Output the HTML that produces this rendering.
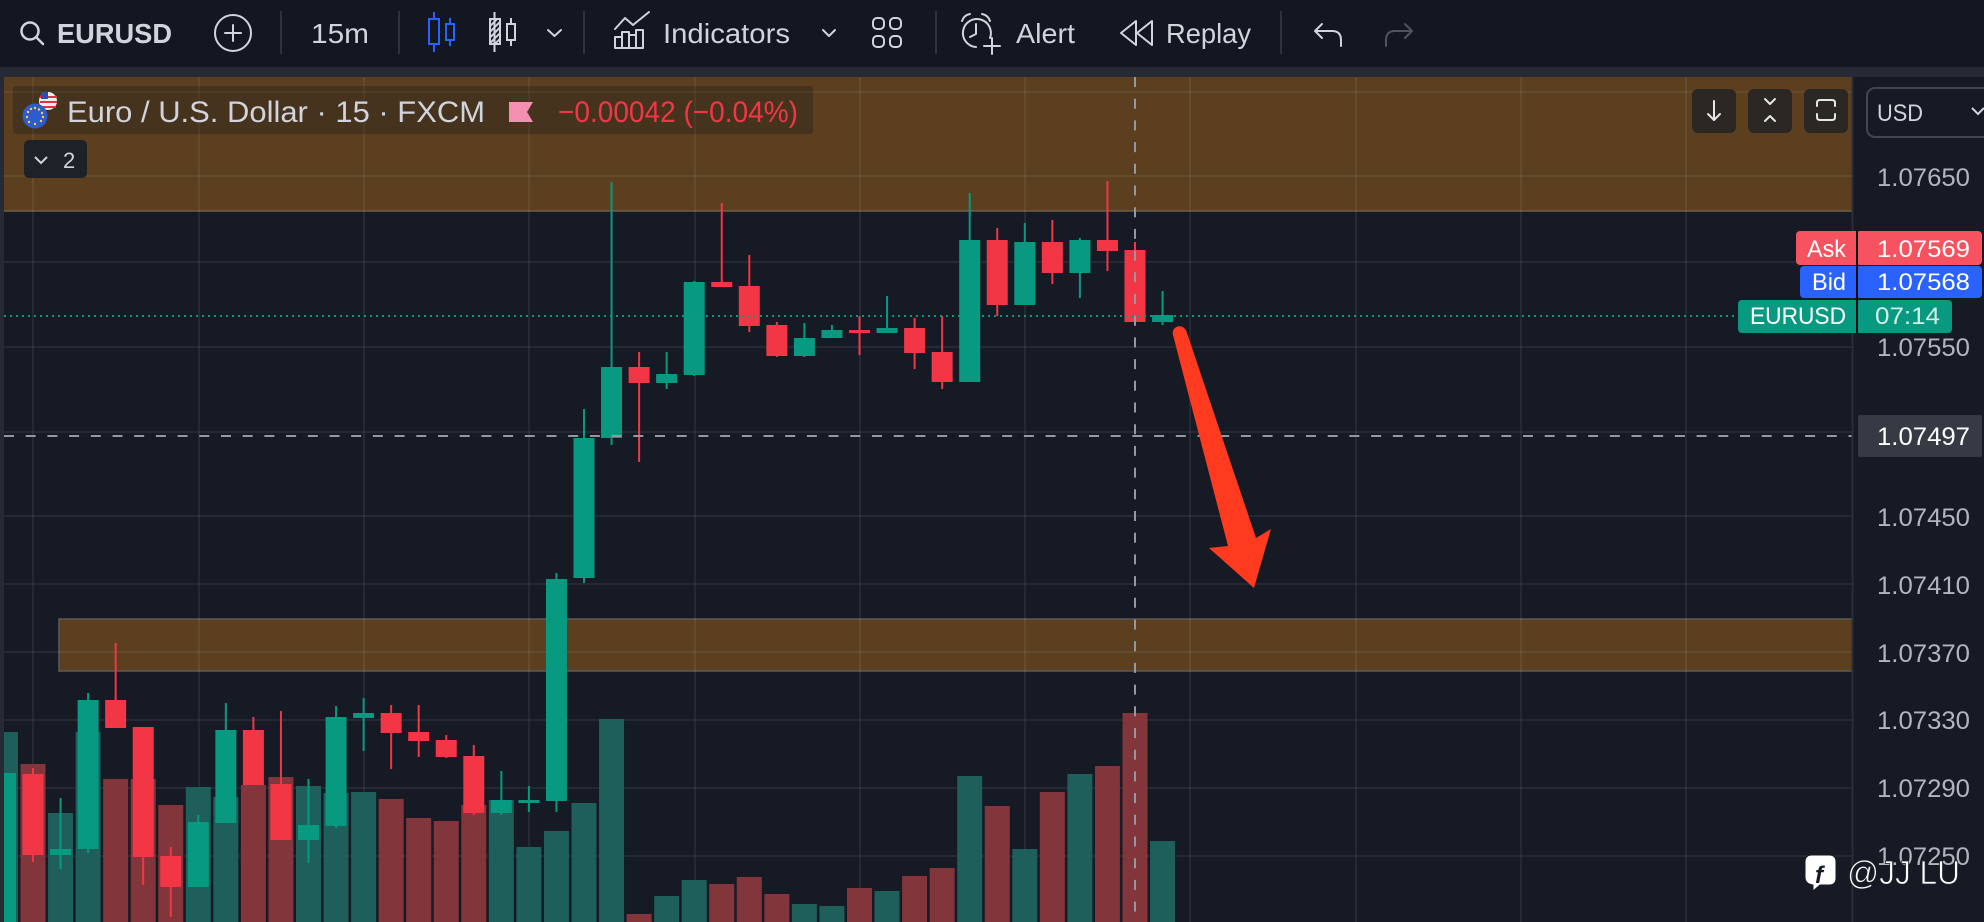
<!DOCTYPE html>
<html>
<head>
<meta charset="utf-8">
<style>
html,body{margin:0;padding:0;background:#161a25;}
#root{width:1984px;height:922px;overflow:hidden;position:relative;}
svg{display:block;font-family:"Liberation Sans",sans-serif;}
</style>
</head>
<body>
<div id="root">
<svg width="1984" height="922" viewBox="0 0 1984 922" xmlns="http://www.w3.org/2000/svg">
<defs>
<clipPath id="pane"><rect x="4" y="77" width="1848" height="845"/></clipPath>
<pattern id="hatch" width="4" height="4" patternUnits="userSpaceOnUse" patternTransform="rotate(45)"><rect width="2" height="4" fill="#d1d4dc"/></pattern>
</defs>
<!-- backgrounds -->
<rect width="1984" height="922" fill="#262a35"/>
<rect x="0" y="0" width="1984" height="67" fill="#131722"/>
<rect x="4" y="77" width="1980" height="845" fill="#161a25"/>

<!-- toolbar -->
<g fill="none" stroke="#d1d4dc" stroke-width="2.5" stroke-linecap="round" stroke-linejoin="round">
  <circle cx="30" cy="31" r="8.5"/>
  <line x1="36.5" y1="37.5" x2="43" y2="44"/>
  <circle cx="233" cy="33" r="18" stroke-width="2"/>
  <line x1="225" y1="33" x2="241" y2="33" stroke-width="2"/>
  <line x1="233" y1="25" x2="233" y2="41" stroke-width="2"/>
  <!-- chevrons -->
  <polyline points="548,30 554.5,36 561,30" stroke-width="2"/>
  <polyline points="823,30 829,36 835,30" stroke-width="2"/>
  <!-- indicators icon -->
  <polyline points="615,29 625,18 633,25 649,12" stroke-width="2"/>
  <rect x="615" y="37" width="7" height="11" stroke-width="2"/>
  <rect x="622" y="32" width="7" height="16" stroke-width="2"/>
  <rect x="629" y="35" width="7" height="13" stroke-width="2"/>
  <rect x="636" y="30" width="7" height="18" stroke-width="2"/>
  <!-- 4 squares -->
  <rect x="873" y="18" width="11" height="11" rx="4" stroke-width="2"/>
  <rect x="890" y="18" width="11" height="11" rx="4" stroke-width="2"/>
  <rect x="873" y="36" width="11" height="11" rx="4" stroke-width="2"/>
  <rect x="890" y="36" width="11" height="11" rx="4" stroke-width="2"/>
  <!-- alert -->
  <path d="M990 38 A14 14 0 1 0 976 47" stroke-width="2"/>
  <polyline points="976,24 976,34 970,37" stroke-width="2"/>
  <path d="M962 21 Q964 15 970 14" stroke-width="2"/>
  <path d="M990 21 Q988 15 982 14" stroke-width="2"/>
  <line x1="992" y1="38" x2="992" y2="54" stroke-width="2"/>
  <line x1="984" y1="46" x2="1000" y2="46" stroke-width="2"/>
  <!-- replay -->
  <polygon points="1136,21 1121,33 1136,45" stroke-width="2"/>
  <polygon points="1152,21 1137,33 1152,45" stroke-width="2"/>
  <!-- undo -->
  <path d="M1322 24 L1315 31 L1322 38 M1315 31 L1332 31 Q1341 31 1341 40 L1341 46" stroke-width="2"/>
  <path d="M1405 24 L1412 31 L1405 38 M1412 31 L1395 31 Q1386 31 1386 40 L1386 46" stroke="#50535e" stroke-width="2"/>
</g>
<!-- separators -->
<g stroke="#2e323d" stroke-width="2">
  <line x1="281" y1="11" x2="281" y2="54"/>
  <line x1="399" y1="11" x2="399" y2="54"/>
  <line x1="584" y1="11" x2="584" y2="54"/>
  <line x1="936" y1="11" x2="936" y2="54"/>
  <line x1="1281" y1="11" x2="1281" y2="54"/>
</g>
<!-- candle icons -->
<g fill="none" stroke="#2962ff" stroke-width="2">
  <line x1="434" y1="12" x2="434" y2="52"/>
  <rect x="429" y="19" width="10" height="25" fill="#131722"/>
  <line x1="450" y1="18" x2="450" y2="46"/>
  <rect x="446" y="24" width="8" height="16" fill="#131722"/>
</g>
<g fill="none" stroke="#d1d4dc" stroke-width="2">
  <line x1="494.5" y1="12" x2="494.5" y2="52"/>
  <rect x="490" y="19" width="10" height="25" fill="url(#hatch)"/>
  <line x1="511" y1="18" x2="511" y2="46"/>
  <rect x="507" y="24" width="8" height="16" fill="#131722"/>
</g>
<g fill="#d1d4dc" font-size="28">
  <text x="57" y="43" font-weight="bold" textLength="115" lengthAdjust="spacingAndGlyphs">EURUSD</text>
  <text x="311" y="43" textLength="58" lengthAdjust="spacingAndGlyphs">15m</text>
  <text x="663" y="43" textLength="127" lengthAdjust="spacingAndGlyphs">Indicators</text>
  <text x="1016" y="43" textLength="59" lengthAdjust="spacingAndGlyphs">Alert</text>
  <text x="1166" y="43" textLength="85" lengthAdjust="spacingAndGlyphs">Replay</text>
</g>

<!-- chart pane -->
<g clip-path="url(#pane)">
  <!-- bands -->
  <rect x="4" y="77" width="1853" height="134" fill="#5b3f1f"/>
  <line x1="4" y1="211" x2="1857" y2="211" stroke="#6f5e48" stroke-width="1.5"/>
  <rect x="59" y="619" width="1798" height="52" fill="#5b3f1f" stroke="#5c5a58" stroke-width="1.5"/>
  <!-- grid -->
  <g stroke="rgba(255,255,255,0.065)" stroke-width="2">
    <line x1="4" y1="92" x2="1852" y2="92"/>
    <line x1="4" y1="176" x2="1852" y2="176"/>
    <line x1="4" y1="262" x2="1852" y2="262"/>
    <line x1="4" y1="347" x2="1852" y2="347"/>
    <line x1="4" y1="432" x2="1852" y2="432"/>
    <line x1="4" y1="516" x2="1852" y2="516"/>
    <line x1="4" y1="584" x2="1852" y2="584"/>
    <line x1="4" y1="652" x2="1852" y2="652"/>
    <line x1="4" y1="720" x2="1852" y2="720"/>
    <line x1="4" y1="788" x2="1852" y2="788"/>
    <line x1="4" y1="856" x2="1852" y2="856"/>
    <line x1="33" y1="77" x2="33" y2="922"/>
    <line x1="199" y1="77" x2="199" y2="922"/>
    <line x1="364" y1="77" x2="364" y2="922"/>
    <line x1="529" y1="77" x2="529" y2="922"/>
    <line x1="695" y1="77" x2="695" y2="922"/>
    <line x1="860" y1="77" x2="860" y2="922"/>
    <line x1="1025" y1="77" x2="1025" y2="922"/>
    <line x1="1190" y1="77" x2="1190" y2="922"/>
    <line x1="1356" y1="77" x2="1356" y2="922"/>
    <line x1="1521" y1="77" x2="1521" y2="922"/>
    <line x1="1686" y1="77" x2="1686" y2="922"/>
  </g>
  <!-- volume -->
  <g>
    <rect x="-7.05" y="732" width="25" height="190" fill="#1e5e5b"/>
    <rect x="20.5" y="764" width="25" height="158" fill="#82353a"/>
    <rect x="48.05" y="813" width="25" height="109" fill="#1e5e5b"/>
    <rect x="75.6" y="732" width="25" height="190" fill="#1e5e5b"/>
    <rect x="103.15" y="779" width="25" height="143" fill="#82353a"/>
    <rect x="130.7" y="779" width="25" height="143" fill="#82353a"/>
    <rect x="158.25" y="805" width="25" height="117" fill="#82353a"/>
    <rect x="185.8" y="787" width="25" height="135" fill="#1e5e5b"/>
    <rect x="213.35" y="797" width="25" height="125" fill="#1e5e5b"/>
    <rect x="240.9" y="785" width="25" height="137" fill="#82353a"/>
    <rect x="268.45" y="777" width="25" height="145" fill="#82353a"/>
    <rect x="296" y="786" width="25" height="136" fill="#1e5e5b"/>
    <rect x="323.55" y="793" width="25" height="129" fill="#1e5e5b"/>
    <rect x="351.1" y="792" width="25" height="130" fill="#1e5e5b"/>
    <rect x="378.65" y="799" width="25" height="123" fill="#82353a"/>
    <rect x="406.2" y="818" width="25" height="104" fill="#82353a"/>
    <rect x="433.75" y="821" width="25" height="101" fill="#82353a"/>
    <rect x="461.3" y="805" width="25" height="117" fill="#82353a"/>
    <rect x="488.85" y="800" width="25" height="122" fill="#1e5e5b"/>
    <rect x="516.4" y="847" width="25" height="75" fill="#1e5e5b"/>
    <rect x="543.95" y="831" width="25" height="91" fill="#1e5e5b"/>
    <rect x="571.5" y="803" width="25" height="119" fill="#1e5e5b"/>
    <rect x="599.05" y="719" width="25" height="203" fill="#1e5e5b"/>
    <rect x="626.6" y="914" width="25" height="8" fill="#82353a"/>
    <rect x="654.15" y="896" width="25" height="26" fill="#1e5e5b"/>
    <rect x="681.7" y="880" width="25" height="42" fill="#1e5e5b"/>
    <rect x="709.25" y="884" width="25" height="38" fill="#82353a"/>
    <rect x="736.8" y="877" width="25" height="45" fill="#82353a"/>
    <rect x="764.35" y="894" width="25" height="28" fill="#82353a"/>
    <rect x="791.9" y="904" width="25" height="18" fill="#1e5e5b"/>
    <rect x="819.45" y="906" width="25" height="16" fill="#1e5e5b"/>
    <rect x="847" y="888" width="25" height="34" fill="#82353a"/>
    <rect x="874.55" y="891" width="25" height="31" fill="#1e5e5b"/>
    <rect x="902.1" y="876" width="25" height="46" fill="#82353a"/>
    <rect x="929.65" y="868" width="25" height="54" fill="#82353a"/>
    <rect x="957.2" y="776" width="25" height="146" fill="#1e5e5b"/>
    <rect x="984.75" y="806" width="25" height="116" fill="#82353a"/>
    <rect x="1012.3" y="849" width="25" height="73" fill="#1e5e5b"/>
    <rect x="1039.85" y="792" width="25" height="130" fill="#82353a"/>
    <rect x="1067.4" y="774" width="25" height="148" fill="#1e5e5b"/>
    <rect x="1094.95" y="766" width="25" height="156" fill="#82353a"/>
    <rect x="1122.5" y="713" width="25" height="209" fill="#82353a"/>
    <rect x="1150.05" y="841" width="25" height="81" fill="#1e5e5b"/>
  </g>
  <!-- candles green -->
  <g fill="#089981">
    <rect x="-5.05" y="773" width="21" height="160"/>
    <rect x="59.55" y="798" width="2" height="71"/><rect x="50.05" y="849" width="21" height="6"/>
    <rect x="87.1" y="693" width="2" height="160"/><rect x="77.6" y="700" width="21" height="149"/>
    <rect x="197.3" y="815" width="2" height="72"/><rect x="187.8" y="822" width="21" height="65"/>
    <rect x="224.85" y="703" width="2" height="120"/><rect x="215.35" y="730" width="21" height="93"/>
    <rect x="307.5" y="779" width="2" height="84"/><rect x="298" y="825" width="21" height="15"/>
    <rect x="335.05" y="706" width="2" height="122"/><rect x="325.55" y="717" width="21" height="109"/>
    <rect x="362.6" y="698" width="2" height="53"/><rect x="353.1" y="713" width="21" height="5"/>
    <rect x="500.35" y="771" width="2" height="44"/><rect x="490.85" y="800" width="21" height="13"/>
    <rect x="527.9" y="786" width="2" height="26"/><rect x="518.4" y="800" width="21" height="3"/>
    <rect x="555.45" y="573" width="2" height="239"/><rect x="545.95" y="579" width="21" height="222"/>
    <rect x="583" y="409" width="2" height="174"/><rect x="573.5" y="438" width="21" height="140"/>
    <rect x="610.55" y="182" width="2" height="263"/><rect x="601.05" y="367" width="21" height="71"/>
    <rect x="665.65" y="352" width="2" height="37"/><rect x="656.15" y="374" width="21" height="9"/>
    <rect x="693.2" y="281" width="2" height="95"/><rect x="683.7" y="282" width="21" height="93"/>
    <rect x="803.4" y="323" width="2" height="34"/><rect x="793.9" y="338" width="21" height="18"/>
    <rect x="830.95" y="325" width="2" height="13"/><rect x="821.45" y="330" width="21" height="8"/>
    <rect x="886.05" y="296" width="2" height="37"/><rect x="876.55" y="328" width="21" height="5"/>
    <rect x="968.7" y="193" width="2" height="189"/><rect x="959.2" y="240" width="21" height="142"/>
    <rect x="1023.8" y="223" width="2" height="82"/><rect x="1014.3" y="242" width="21" height="63"/>
    <rect x="1078.9" y="238" width="2" height="60"/><rect x="1069.4" y="240" width="21" height="33"/>
    <rect x="1161.55" y="291" width="2" height="34"/><rect x="1152.05" y="315" width="21" height="7"/>
  </g>
  <!-- candles red -->
  <g fill="#f23645">
    <rect x="32" y="768" width="2" height="94"/><rect x="22.5" y="774" width="21" height="81"/>
    <rect x="114.65" y="643" width="2" height="85"/><rect x="105.15" y="700" width="21" height="28"/>
    <rect x="142.2" y="727" width="2" height="158"/><rect x="132.7" y="727" width="21" height="130"/>
    <rect x="169.75" y="847" width="2" height="70"/><rect x="160.25" y="856" width="21" height="31"/>
    <rect x="252.4" y="717" width="2" height="68"/><rect x="242.9" y="730" width="21" height="55"/>
    <rect x="279.95" y="711" width="2" height="129"/><rect x="270.45" y="784" width="21" height="56"/>
    <rect x="390.15" y="705" width="2" height="64"/><rect x="380.65" y="713" width="21" height="20"/>
    <rect x="417.7" y="705" width="2" height="52"/><rect x="408.2" y="732" width="21" height="9"/>
    <rect x="445.25" y="735" width="2" height="23"/><rect x="435.75" y="740" width="21" height="17"/>
    <rect x="472.8" y="745" width="2" height="70"/><rect x="463.3" y="756" width="21" height="57"/>
    <rect x="638.1" y="352" width="2" height="110"/><rect x="628.6" y="367" width="21" height="16"/>
    <rect x="720.75" y="203" width="2" height="84"/><rect x="711.25" y="282" width="21" height="5"/>
    <rect x="748.3" y="255" width="2" height="77"/><rect x="738.8" y="286" width="21" height="40"/>
    <rect x="775.85" y="322" width="2" height="35"/><rect x="766.35" y="325" width="21" height="31"/>
    <rect x="858.5" y="316" width="2" height="39"/><rect x="849" y="330" width="21" height="3"/>
    <rect x="913.6" y="318" width="2" height="51"/><rect x="904.1" y="328" width="21" height="25"/>
    <rect x="941.15" y="316" width="2" height="73"/><rect x="931.65" y="352" width="21" height="30"/>
    <rect x="996.25" y="228" width="2" height="88"/><rect x="986.75" y="240" width="21" height="65"/>
    <rect x="1051.35" y="220" width="2" height="64"/><rect x="1041.85" y="242" width="21" height="31"/>
    <rect x="1106.45" y="181" width="2" height="90"/><rect x="1096.95" y="240" width="21" height="11"/>
    <rect x="1134" y="242" width="2" height="80"/><rect x="1124.5" y="250" width="21" height="72"/>
  </g>
  <!-- current price dotted line -->
  <line x1="4" y1="316" x2="1738" y2="316" stroke="#089981" stroke-width="2" stroke-dasharray="2 4"/>
  <!-- crosshair -->
  <line x1="4" y1="436" x2="1852" y2="436" stroke="#9598a1" stroke-width="2" stroke-dasharray="10 11.7"/>
  <line x1="1135" y1="77" x2="1135" y2="922" stroke="#9598a1" stroke-width="2" stroke-dasharray="10 11.7"/>
  <!-- arrow -->
  <polygon points="1173,335 1186,330 1256,538 1271,529 1254,588 1209,548 1228,546" fill="#ff3a1e"/>
  <circle cx="1179.5" cy="333" r="6.8" fill="#ff3a1e"/>
</g>

<!-- axis separator -->
<line x1="1852.5" y1="77" x2="1852.5" y2="922" stroke="#2a2e39" stroke-width="2"/>

<!-- legend -->
<rect x="13" y="86" width="800" height="48" rx="3" fill="rgba(22,22,30,0.3)"/>
<circle cx="48" cy="101" r="9" fill="#eeeeee"/>
<path d="M40 97 H57 M40 102 H57 M41 107 H56" stroke="#e0313f" stroke-width="2"/>
<rect x="41" y="92" width="7" height="7" fill="#2a4fb0"/>
<circle cx="35" cy="116" r="12.5" fill="#2c5ccf"/>
<g fill="#f5d33a">
  <circle cx="35" cy="108" r="1.2"/><circle cx="39" cy="109.5" r="1.2"/><circle cx="42" cy="113" r="1.2"/>
  <circle cx="43" cy="117" r="1.2"/><circle cx="41" cy="121" r="1.2"/><circle cx="35" cy="124" r="1.2"/>
  <circle cx="29" cy="122" r="1.2"/><circle cx="27" cy="117" r="1.2"/><circle cx="28" cy="112" r="1.2"/>
  <circle cx="31" cy="109" r="1.2"/>
</g>
<text x="67" y="122" font-size="30" fill="#d1d4dc" textLength="418" lengthAdjust="spacingAndGlyphs">Euro / U.S. Dollar · 15 · FXCM</text>
<polygon points="509,102 533,102 527,112 533,122 509,122" fill="#f48fb1"/>
<text x="558" y="122" font-size="30" fill="#f23645" textLength="240" lengthAdjust="spacingAndGlyphs">−0.00042 (−0.04%)</text>
<rect x="24" y="140" width="63" height="38" rx="5" fill="#1f2128"/>
<polyline points="35,157 41,163 47,157" fill="none" stroke="#d1d4dc" stroke-width="2"/>
<text x="63" y="168" font-size="22" fill="#d1d4dc">2</text>

<!-- top-right buttons -->
<rect x="1692" y="89" width="44" height="44" rx="6" fill="#2b2723"/>
<rect x="1748" y="89" width="44" height="44" rx="6" fill="#2b2723"/>
<rect x="1804" y="89" width="44" height="44" rx="6" fill="#2b2723"/>
<g fill="none" stroke="#e6e6e6" stroke-width="2" stroke-linecap="round" stroke-linejoin="round">
  <line x1="1714" y1="101" x2="1714" y2="120"/>
  <polyline points="1708,114 1714,120 1720,114"/>
  <polyline points="1765,99 1770,104 1775,99"/>
  <polyline points="1765,121 1770,116 1775,121"/>
  <path d="M1817 106 V103 Q1817 100 1820 100 H1832 Q1835 100 1835 103 V106 M1817 114 V117 Q1817 120 1820 120 H1832 Q1835 120 1835 117 V114"/>
</g>

<!-- USD box -->
<rect x="1867" y="88" width="130" height="49" rx="8" fill="none" stroke="#434651" stroke-width="2"/>
<text x="1877" y="121" font-size="24" fill="#d1d4dc" textLength="46" lengthAdjust="spacingAndGlyphs">USD</text>
<polyline points="1972,108 1978,114 1984,108" fill="none" stroke="#d1d4dc" stroke-width="2"/>

<!-- price axis labels -->
<g font-size="25" fill="#b2b5be">
  <text x="1877" y="186" textLength="93" lengthAdjust="spacingAndGlyphs">1.07650</text>
  <text x="1877" y="356" textLength="93" lengthAdjust="spacingAndGlyphs">1.07550</text>
  <text x="1877" y="526" textLength="93" lengthAdjust="spacingAndGlyphs">1.07450</text>
  <text x="1877" y="594" textLength="93" lengthAdjust="spacingAndGlyphs">1.07410</text>
  <text x="1877" y="662" textLength="93" lengthAdjust="spacingAndGlyphs">1.07370</text>
  <text x="1877" y="729" textLength="93" lengthAdjust="spacingAndGlyphs">1.07330</text>
  <text x="1877" y="797" textLength="93" lengthAdjust="spacingAndGlyphs">1.07290</text>
  <text x="1877" y="865" textLength="93" lengthAdjust="spacingAndGlyphs">1.07250</text>
</g>

<!-- Ask / Bid / EURUSD badges -->
<rect x="1796" y="231" width="64" height="34" rx="4" fill="#f7525f"/>
<rect x="1856" y="231" width="126" height="34" rx="4" fill="#f7525f"/>
<rect x="1800" y="266" width="60" height="32" rx="4" fill="#2962ff"/>
<rect x="1856" y="266" width="126" height="32" rx="4" fill="#2962ff"/>
<rect x="1738" y="300" width="122" height="33" rx="4" fill="#089981"/>
<rect x="1856" y="300" width="96" height="33" rx="4" fill="#089981"/>
<rect x="1856" y="230" width="2" height="104" fill="#0c0e13"/>
<g font-size="24" fill="#ffffff">
  <text x="1807" y="257" textLength="39" lengthAdjust="spacingAndGlyphs">Ask</text>
  <text x="1877" y="257" textLength="93" lengthAdjust="spacingAndGlyphs">1.07569</text>
  <text x="1812" y="290" textLength="34" lengthAdjust="spacingAndGlyphs">Bid</text>
  <text x="1877" y="290" textLength="93" lengthAdjust="spacingAndGlyphs">1.07568</text>
  <text x="1750" y="324" textLength="96" lengthAdjust="spacingAndGlyphs">EURUSD</text>
  <text x="1875" y="324" fill="#d4efe8" textLength="65" lengthAdjust="spacingAndGlyphs">07:14</text>
</g>
<!-- crosshair price label -->
<rect x="1858" y="415" width="124" height="42" rx="2" fill="#363a45"/>
<text x="1877" y="445" font-size="25" fill="#ffffff" textLength="93" lengthAdjust="spacingAndGlyphs">1.07497</text>

<!-- watermark -->
<path d="M1812 855 H1829 Q1836 855 1836 862 V878 Q1836 885 1829 885 H1820 L1813 891 V885 Q1805 884 1805 877 V862 Q1805 855 1812 855 Z" fill="#ffffff" stroke="#1a1d26" stroke-width="1"/>
<text x="1815" y="883" font-size="24" font-weight="bold" font-style="italic" fill="#161a25">f</text>
<text x="1847" y="884" font-size="33" fill="#ffffff" stroke="#20232c" stroke-width="0.8" textLength="113" lengthAdjust="spacingAndGlyphs">@JJ LU</text>
</svg>
</div>
</body>
</html>
